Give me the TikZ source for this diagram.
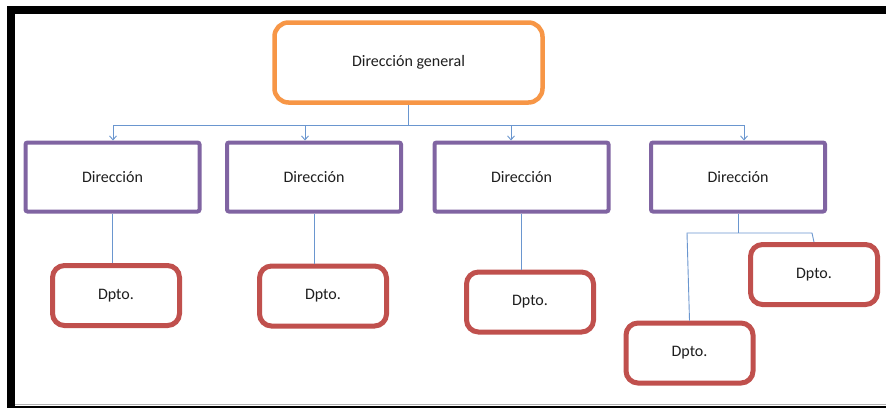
\documentclass[tikz,border=0pt]{standalone}
\usepackage{fontspec}
\setmainfont{Carlito}
\usetikzlibrary{arrows.meta}
\definecolor{orgorange}{HTML}{F79646}
\definecolor{orgpurple}{HTML}{8064A2}
\definecolor{orgred}{HTML}{C0504D}
\definecolor{orgline}{HTML}{6A96CF}
\definecolor{orgtext}{HTML}{1E1E1E}
\tikzset{
  every node/.style={font=\fontsize{16}{19}\selectfont, text=orgtext, inner sep=0pt},
  topbox/.style={draw=orgorange, line width=4.5pt, rounded corners=14pt, fill=white,
                 minimum width=268pt, minimum height=80pt},
  dirbox/.style={draw=orgpurple, line width=4pt, rounded corners=2pt, fill=white,
                 minimum width=174pt, minimum height=69pt},
  dptbox/.style={draw=orgred, line width=5pt, rounded corners=12pt, fill=white,
                 minimum width=127pt, minimum height=60pt},
  link/.style={draw=orgline, line width=0.9pt},
  arrowlink/.style={link, -{Straight Barb[length=4pt,width=7pt,line width=0.9pt]}},
}
\begin{document}
\begin{tikzpicture}[x=1pt, y=-1pt]
  \useasboundingbox (0,0) rectangle (886,408);
  \fill[white] (0,0) rectangle (886,408);
  % outer frame
  \fill[black] (7,6) rectangle (886,14);
  \fill[black] (7,6) rectangle (15,408);
  \fill[black] (15,405.5) rectangle (886,408);
  \draw[gray!60, line width=0.8pt] (15,404.8) -- (886,404.8);

  % connectors first, so the boxes sit on top of their ends
  \coordinate (bus) at (408.5,125);
  \coordinate (a1) at (113,125);
  \coordinate (a2) at (305,125);
  \coordinate (a3) at (511,125);
  \coordinate (a4) at (744,125);
  \coordinate (j) at (738,233);
  \coordinate (jl) at (687,233);
  \coordinate (jr) at (812,233);

  % boxes
  \node[topbox] (top) at (408.5,62.5) {Dirección general};

  \node[dirbox] (d1) at (112.5,177) {Dirección};
  \node[dirbox] (d2) at (314,177) {Dirección};
  \node[dirbox] (d3) at (521.5,177) {Dirección};
  \node[dirbox] (d4) at (738,177) {Dirección};

  \node[dptbox] (p1) at (116,295.5) {Dpto.};
  \node[dptbox] (p2) at (323,296) {Dpto.};
  \node[dptbox] (p3) at (530,302) {Dpto.};
  \node[dptbox] (p4) at (814,274.5) {Dpto.};
  \node[dptbox] (p5) at (689.5,353) {Dpto.};

  % bus under the general direction
  \draw[link] (top.south) -- (bus);
  \draw[link] (a1) -- (a4);
  \draw[arrowlink] (a1) -- (a1 |- d1.north);
  \draw[arrowlink] (a2) -- (a2 |- d2.north);
  \draw[arrowlink] (a3) -- (a3 |- d3.north);
  \draw[arrowlink] (a4) -- (a4 |- d4.north);

  % departments
  \draw[link] (d1.south) -- (d1.south |- p1.north);
  \draw[link] (d2.south) -- (d2.south |- p2.north);
  \draw[link] (d3.south) -- (d3.south |- p3.north);
  \draw[link] (d4.south) -- (j);
  \draw[link] (p5.north) -- (jl) -- (jr) -- (p4.north);
\end{tikzpicture}
\end{document}
